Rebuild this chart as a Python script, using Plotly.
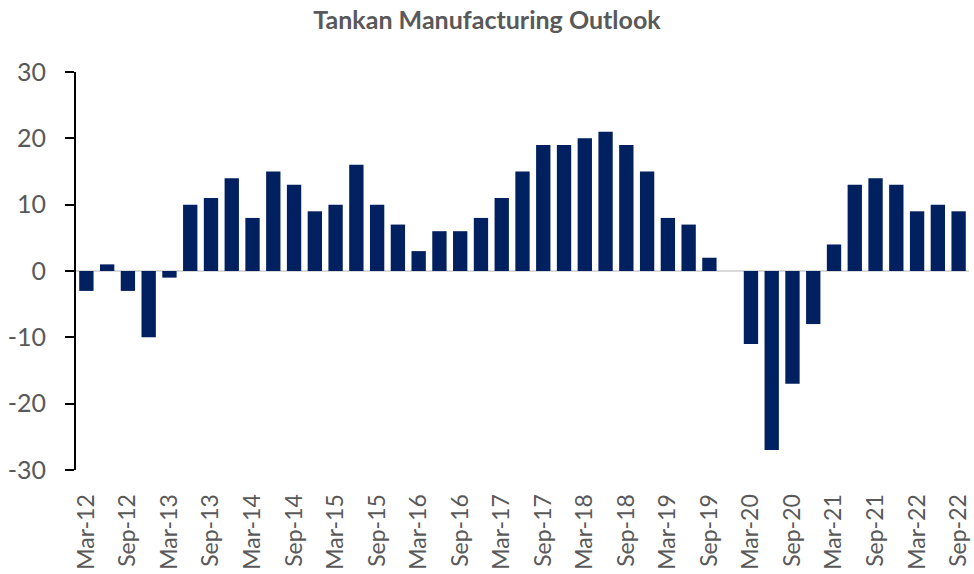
import plotly.graph_objects as go

quarters = []
for yr in range(12, 23):
    for m in ["Mar", "Jun", "Sep", "Dec"]:
        quarters.append(f"{m}-{yr}")
quarters = quarters[:43]  # Mar-12 .. Sep-22

outlook = [-3, 1, -3, -10, -1, 10, 11, 14, 8, 15, 13, 9, 10, 16, 10, 7,
           3, 6, 6, 8, 11, 15, 19, 19, 20, 21, 19, 15, 8, 7, 2, 0,
           -11, -27, -17, -8, 4, 13, 14, 13, 9, 10, 9]

tick_labels = quarters[::2]
y_ticks = [-30, -20, -10, 0, 10, 20, 30]
y_tick_text = [str(v) for v in y_ticks]

fig = go.Figure(go.Bar(
    x=quarters, y=outlook,
    marker=dict(color="#002060", line=dict(width=0)),
))

fig.update_layout(
    width=974, height=574,
    paper_bgcolor="white", plot_bgcolor="white",
    margin=dict(l=76, r=5, t=72, b=104),
    bargap=0.31,
    showlegend=False,
    title=dict(text="<b>Tankan Manufacturing Outlook</b>", x=0.5, xanchor="center",
               y=1 - 20 / 574, yanchor="middle", yref="container",
               font=dict(family="Lato", size=25, color="#595959")),
)

fig.update_xaxes(
    type="category", tickmode="array", tickvals=tick_labels, ticktext=tick_labels,
    tickangle=-90, tickfont=dict(family="Lato", size=23, color="#595959"),
    showgrid=False, showline=False, ticks="outside", ticklen=14,
    tickcolor="rgba(0,0,0,0)", range=[-0.5, 42.5], automargin=False,
)

fig.update_yaxes(
    range=[-30, 30], tickmode="array", tickvals=y_ticks, ticktext=y_tick_text,
    showgrid=False, automargin=False,
    showline=True, linecolor="black", linewidth=2,
    ticks="outside", ticklen=9, tickwidth=2, tickcolor="black",
    ticklabelstandoff=14,
    tickfont=dict(family="Lato", size=25, color="#595959"),
    zeroline=True, zerolinecolor="#d9d9d9", zerolinewidth=2,
)

fig.write_html("out.html",
               config={"displayModeBar": False},
               post_script="document.body.style.margin='0';document.body.style.overflow='hidden';")
